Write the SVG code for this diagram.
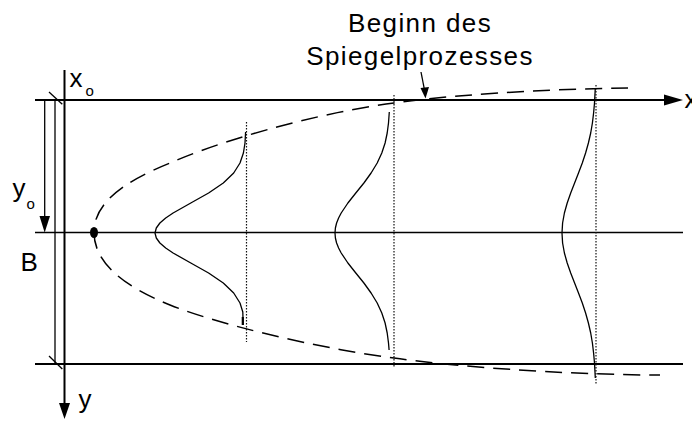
<svg xmlns="http://www.w3.org/2000/svg" width="692" height="421" viewBox="0 0 692 421">
<style>
.t{font-family:"Liberation Sans",Arial,sans-serif;fill:#000}
.big{font-size:26px}
.sub{font-size:15px}
.ax{stroke:#000;stroke-width:2;fill:none}
.thin{stroke:#000;stroke-width:1.3;fill:none}
.dot{stroke:#111;stroke-width:1.2;stroke-dasharray:1.6 1.4;fill:none}
.dash{stroke:#000;stroke-width:1.5;stroke-dasharray:17 9;fill:none}
.crv{stroke:#000;stroke-width:1.3;fill:none;stroke-linejoin:round}
</style>
<rect width="692" height="421" fill="#fff"/>
<g id="axes">
<line class="ax" x1="35" y1="100" x2="666" y2="100"/>
<polygon points="664,94.5 683,100 664,105.5" fill="#000"/>
<line class="thin" x1="35" y1="232.5" x2="683" y2="232.5"/>
<line class="ax" x1="35" y1="364" x2="683" y2="364"/>
<line class="ax" x1="64.5" y1="70" x2="64.5" y2="405"/>
<polygon points="59,403 70,403 64.5,419" fill="#000"/>
</g>
<g id="dimensions">
<line class="thin" x1="44.7" y1="100" x2="44.7" y2="218"/>
<polygon points="39.5,216 50,216 44.7,232.5" fill="#000"/>
<line class="thin" x1="55" y1="100" x2="55" y2="364"/>
<line class="thin" x1="49" y1="92" x2="62.3" y2="104.3"/>
<line class="thin" x1="49" y1="356" x2="62.3" y2="369"/>
</g>
<g id="dotted-lines">
<line class="dot" x1="246.5" y1="122" x2="246.5" y2="342"/>
<line class="dot" x1="394" y1="95" x2="394" y2="367"/>
<line class="dot" x1="596" y1="85" x2="596" y2="384"/>
</g>
<g id="envelope">
<path class="dash" d="M628,88 C540,89 440,96 394,103 C310,114 215,143 170,163 C120,183 94,205 94,232"/>
<path class="dash" d="M94,232 C94,260 118,284 170,305 C215,323 310,347 394,358 C440,365 560,375 660,375"/>
<ellipse cx="94" cy="232.5" rx="4" ry="5.5" fill="#000"/>
</g>
<g id="profiles">
<polyline class="crv" points="245.6,132 245,143 243.4,153 240,163 233.7,173 223.3,183 208.6,193 190.8,203 173.1,213 165.7,218 159.9,223 156.3,228 155,233 156.3,238 159.9,243 165.7,248 173.1,253 190.8,263 208.6,273 223.3,283 233.7,293 240,303 242.8,312 243,318 243,325"/>
<line x1="242.8" y1="317" x2="242.8" y2="325" stroke="#000" stroke-width="2.2"/>
<polyline class="crv" points="389.3,112 388.5,123 387.2,133 385.1,143 381.8,153 377.2,163 371.1,173 363.9,183 355.8,193 347.9,203 341.2,213 338.6,218 336.6,223 335.4,228 335,233 335.4,238 336.6,243 338.6,248 341.2,253 347.9,263 355.8,273 363.9,283 371.1,293 377.2,303 381.8,313 385.1,323 387.2,333 388.5,343 389.1,350"/>
<polyline class="crv" points="595.3,88 594.5,103 593.6,113 592.4,123 590.7,133 588.4,143 585.6,153 582.3,163 578.5,173 574.6,183 570.7,193 567.2,203 564.4,213 562.6,223 562,233 562.6,243 564.4,253 567.2,263 570.7,273 574.6,283 578.5,293 582.3,303 585.6,313 588.4,323 590.7,333 592.4,343 593.6,353 594.5,363 595.3,378"/>
</g>
<g id="annotation">
<text class="t big" x="420" y="32" text-anchor="middle" letter-spacing="1.4">Beginn des</text>
<text class="t big" x="420" y="65" text-anchor="middle" letter-spacing="1.4">Spiegelprozesses</text>
<line class="thin" x1="421" y1="72" x2="424.5" y2="90"/>
<polygon points="420.5,88 429,87 425.5,98.5" fill="#000"/>
</g>
<g id="labels">
<text class="t big" x="69.5" y="87">x</text>
<text class="t sub" x="85.5" y="96">o</text>
<text class="t big" x="12.5" y="197">y</text>
<text class="t sub" x="26.5" y="209">o</text>
<text class="t big" x="20.5" y="271">B</text>
<text class="t big" x="78.5" y="408">y</text>
<text class="t big" x="684.5" y="108">x</text>
</g>
</svg>
